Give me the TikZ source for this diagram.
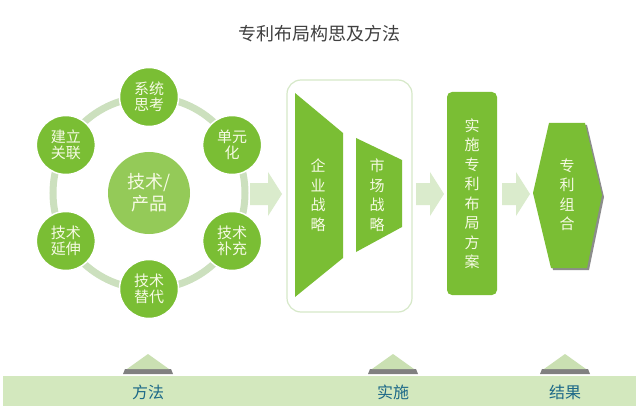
\documentclass[tikz,border=0pt]{standalone}
\usepackage{fontspec}
\setmainfont{Noto Sans CJK SC}
\usetikzlibrary{shapes.geometric}

\definecolor{leafgreen}{RGB}{122,190,52}
\definecolor{hubgreen}{RGB}{148,202,88}
\definecolor{cream}{RGB}{246,250,228}
\definecolor{ringgrey}{RGB}{204,224,190}
\definecolor{pale}{RGB}{218,235,204}
\definecolor{frame}{RGB}{214,232,200}
\definecolor{band}{RGB}{211,232,190}
\definecolor{bump}{RGB}{202,224,178}
\definecolor{teal}{RGB}{28,104,136}

\tikzset{
	petal/.style={circle,draw=white,line width=1.5pt,fill=leafgreen,minimum size=59pt,
		inner sep=0pt,text=cream,align=center,font=\fontsize{15}{16}\selectfont},
	vtext/.style={text=cream,align=center,inner sep=0pt,font=\fontsize{15}{19.5}\selectfont},
	tag/.style={text=teal,font=\fontsize{16}{18}\selectfont}
}

\begin{document}
\begin{tikzpicture}[x=1pt,y=-1pt]
	\useasboundingbox[fill=white] (0,0) rectangle (640,409);
	\node[text=black!75,font=\fontsize{18}{20}\selectfont] (title) at (319,34) {专利布局构思及方法};

	% ring of methods
	\coordinate (ringc) at (149,193);
	\draw[ringgrey,line width=7pt] (ringc) circle[radius=96];
	\node[circle,fill=hubgreen,minimum size=82pt,inner sep=0pt,text=cream,align=center,
		font=\fontsize{18}{22}\selectfont] (hub) at (ringc) {技术/\\产品};
	\foreach \a/\txt/\nm in {270/{系统\\思考}/sys,330/{单元\\化}/unit,30/{技术\\补充}/supp,
		90/{技术\\替代}/subs,150/{技术\\延伸}/ext,210/{建立\\关联}/link}{
		\node[petal] (\nm) at ([shift={(\a:96)}]ringc) {\txt};
	}

	% block arrows
	\foreach \x/\w in {250/32,416/28,502/28}{
		\fill[pale] (\x,183) -- ++(\w-14,0) -- ++(0,-11) -- ++(14,22)
			-- ++(-14,22) -- ++(0,-11) -- (\x,205) -- cycle;
	}

	% strategy panel
	\node[draw=frame,line width=1.2pt,rounded corners=14pt,minimum width=125pt,
		minimum height=232pt] (panel) at (349.5,196) {};
	\fill[leafgreen] (295,93) -- (343,133) -- (343,258) -- (295,297) -- cycle;
	\fill[leafgreen] (356,138) -- (402,160) -- (402,227) -- (356,252) -- cycle;
	\node[vtext] (firm) at (318,195) {企\\业\\战\\略};
	\node[vtext] (market) at (377,195) {市\\场\\战\\略};

	% plan
	\node[fill=leafgreen,rounded corners=5pt,minimum width=50pt,minimum height=203pt,
		inner sep=0pt] (plan) at (472,193.5) {};
	\node[vtext] (plantxt) at (plan) {实\\施\\专\\利\\布\\局\\方\\案};

	% result
	\fill[black!45] (535,195) -- (551,125) -- (587,125) -- (604,197) -- (589,270) -- (553,270) -- cycle;
	\fill[leafgreen] (533,193) -- (549,123) -- (585,123) -- (602,195) -- (587,268) -- (551,268) -- cycle;
	\node[vtext] (combo) at (567,195) {专\\利\\组\\合};

	% bottom band
	\fill[band] (3,376) rectangle (636,406);
	\foreach \x/\txt/\nm in {148/方法/meth,393/实施/exec,565/结果/res}{
		\fill[black!50] (\x-23,369) -- (\x+23,369) -- (\x+25,374) -- (\x-25,374) -- cycle;
		\fill[bump] (\x,354) -- (\x+21,369) -- (\x-21,369) -- cycle;
		\node[tag] (\nm) at (\x,392) {\txt};
	}
\end{tikzpicture}
\end{document}
